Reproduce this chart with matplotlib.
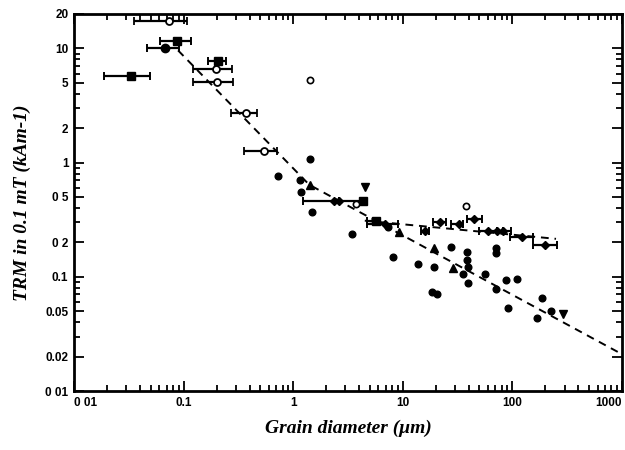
import matplotlib
matplotlib.use("Agg")
import matplotlib.pyplot as plt
from matplotlib.ticker import FixedLocator, FixedFormatter, LogLocator, NullFormatter
import numpy as np

# ---- data ----
# filled circles (no error bars)
dot_x = [1.42, 0.727, 1.15, 1.18, 1.49, 3.44, 8.14, 13.8, 19.3, 18.5, 20.5, 27.5, 35.4,
         38.5, 38.5, 39.4, 39.4, 56.2, 70.8, 70.8, 70.8, 87.5, 110, 91.2, 186, 168, 225, 7.33]
dot_y = [1.07, 0.762, 0.703, 0.553, 0.37, 0.238, 0.149, 0.13, 0.122, 0.074, 0.071, 0.183, 0.106,
         0.165, 0.141, 0.122, 0.0887, 0.106, 0.179, 0.16, 0.0786, 0.094, 0.096, 0.0536, 0.0656,
         0.0438, 0.0505, 0.273]

# filled triangles (up)
tri_x = [1.42, 9.23, 19.3, 28.7]
tri_y = [0.636, 0.247, 0.179, 0.12]

# filled triangles (down)
tdn_x = [4.52, 290]
tdn_y = [0.611, 0.0475]

# filled squares with grain-size ranges
sq_x = [0.087, 0.0331, 0.206, 4.33, 5.69]
sq_y = [11.5, 5.7, 7.7, 0.461, 0.308]
sq_lo = [0.061, 0.0188, 0.167, 4.33, 4.71]
sq_hi = [0.117, 0.0494, 0.244, 4.33, 5.69]

# filled circle with range
fc_x = [0.0677]
fc_y = [10.0]
fc_lo = [0.0463]
fc_hi = [0.0907]

# open circles with ranges
oc_x = [0.074, 0.197, 0.202, 0.371, 0.542]
oc_y = [17.5, 6.56, 5.05, 2.71, 1.26]
oc_lo = [0.035, 0.122, 0.122, 0.27, 0.355]
oc_hi = [0.107, 0.277, 0.283, 0.47, 0.71]

# open circles without ranges
oc2_x = [1.42, 3.74, 37.7]
oc2_y = [5.3, 0.434, 0.417]

# filled diamonds with ranges
dm_x = [2.36, 2.62, 6.88, 15.9, 21.8, 32.6, 44.6, 59.9, 72.3, 82.0, 122, 198]
dm_y = [0.461, 0.461, 0.29, 0.252, 0.302, 0.29, 0.321, 0.252, 0.252, 0.252, 0.224, 0.19]
dm_lo = [1.23, 2.62, 4.71, 14.6, 18.9, 27.5, 38.5, 50.0, 72.3, 82.0, 95.0, 154]
dm_hi = [4.52, 2.62, 9.04, 17.5, 24.8, 35.4, 52.8, 72.3, 72.3, 97.0, 154, 255]

# dashed trend lines
fit1_x = [0.089, 1.4, 1000]
fit1_y = [9.6, 0.64, 0.021]
fit2_x = [4.5, 250]
fit2_y = [0.31, 0.215]

x_ticks = [0.01, 0.1, 1, 10, 100, 1000]
x_labels = ["0 01", "0.1", "1", "10", "100", "1000"]
y_ticks = [0.01, 0.02, 0.05, 0.1, 0.2, 0.5, 1, 2, 5, 10, 20]
y_labels = ["0 01", "0.02", "0.05", "0.1", "0 2", "0 5", "1", "2", "5", "10", "20"]

# ---- figure ----
fig = plt.figure(figsize=(6.25, 4.5), dpi=100)
ax = fig.add_axes([0.1184, 0.1311, 0.8768, 0.8378])
ax.set_xscale("log")
ax.set_yscale("log")
ax.set_xlim(0.01, 1000)
ax.set_ylim(0.01, 20)

dash = (0, (4, 3))
ax.plot(fit1_x, fit1_y, color="black", lw=1.4, linestyle=dash, zorder=2)
ax.plot(fit2_x, fit2_y, color="black", lw=1.4, linestyle=dash, zorder=2)

def xerr(xs, lo, hi):
    return [np.array(xs) - np.array(lo), np.array(hi) - np.array(xs)]

ekw = dict(ecolor="black", elinewidth=1.6, capsize=3, capthick=1.4, linestyle="none", zorder=3)
ax.errorbar(sq_x, sq_y, xerr=xerr(sq_x, sq_lo, sq_hi), marker="s", ms=5.5,
            mfc="black", mec="black", **ekw)
ax.errorbar(fc_x, fc_y, xerr=xerr(fc_x, fc_lo, fc_hi), marker="o", ms=6,
            mfc="black", mec="black", **ekw)
ax.errorbar(oc_x, oc_y, xerr=xerr(oc_x, oc_lo, oc_hi), marker="o", ms=5,
            mfc="white", mec="black", mew=1.3, **ekw)
ax.errorbar(dm_x, dm_y, xerr=xerr(dm_x, dm_lo, dm_hi), marker="D", ms=4.5,
            mfc="black", mec="black", **ekw)

ax.plot(dot_x, dot_y, "o", color="black", ms=4.8, zorder=4)
ax.plot(tri_x, tri_y, "^", color="black", ms=5.5, zorder=4)
ax.plot(tdn_x, tdn_y, "v", color="black", ms=5.5, zorder=4)
ax.plot(oc2_x, oc2_y, "o", mfc="white", mec="black", mew=1.2, ms=4.5, zorder=4)

# ticks
ax.xaxis.set_major_locator(FixedLocator(x_ticks))
ax.xaxis.set_major_formatter(FixedFormatter(x_labels))
ax.xaxis.set_minor_locator(LogLocator(base=10, subs=np.arange(2, 10), numticks=20))
ax.xaxis.set_minor_formatter(NullFormatter())
ax.yaxis.set_major_locator(FixedLocator(y_ticks))
ax.yaxis.set_major_formatter(FixedFormatter(y_labels))
ax.yaxis.set_minor_locator(LogLocator(base=10, subs=np.arange(2, 10), numticks=20))
ax.yaxis.set_minor_formatter(NullFormatter())

ax.tick_params(which="both", direction="in", top=True, right=True, width=1.3)
ax.tick_params(which="major", length=7, pad=4)
ax.tick_params(which="minor", length=4)
for lab in ax.get_xticklabels() + ax.get_yticklabels():
    lab.set_fontfamily("Liberation Sans")
    lab.set_fontweight("bold")
    lab.set_fontsize(8.5)
xl = ax.get_xticklabels()
xl[-1].set_horizontalalignment("right")
xl[0].set_horizontalalignment("left")

for s in ax.spines.values():
    s.set_linewidth(2.0)

ax.set_xlabel("Grain diameter (μm)", family="Liberation Serif", style="italic",
              weight="bold", fontsize=14, labelpad=8)
ax.set_ylabel("TRM in 0.1 mT (kAm-1)", family="Liberation Serif", style="italic",
              weight="bold", fontsize=14, labelpad=10)

fig.savefig("out.png", dpi=100)
